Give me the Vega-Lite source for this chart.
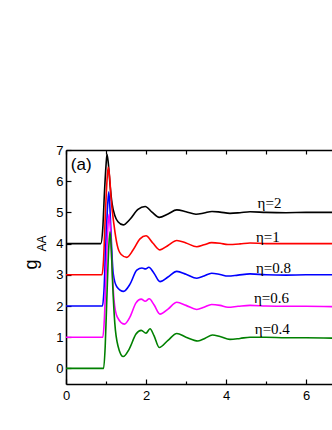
{
"$schema": "https://vega.github.io/schema/vega-lite/v6.json",
"autosize": {"type": "none"},
"padding": {"left": 66, "top": 150, "right": 0, "bottom": 46},
"width": 266,
"height": 234,
"config": {
  "view": {"stroke": null},
  "axis": {"grid": false, "domainColor": "#000", "tickColor": "#000", "labelColor": "#000", "titleColor": "#000", "labelFont": "Liberation Sans", "titleFont": "Liberation Sans", "labelFontSize": 13, "domainWidth": 1.6, "tickWidth": 1.2}
},
"layer": [
  {
    "data": {"values": [
      {"eta":"2","r":0,"g":4},{"eta":"2","r":0.87,"g":4},{"eta":"2","r":0.92,"g":4.5},{"eta":"2","r":0.96,"g":5.6},{"eta":"2","r":1.0,"g":6.5},{"eta":"2","r":1.025,"g":6.86},{"eta":"2","r":1.06,"g":6.55},{"eta":"2","r":1.1,"g":5.9},{"eta":"2","r":1.15,"g":5.3},{"eta":"2","r":1.22,"g":4.9},{"eta":"2","r":1.3,"g":4.7},{"eta":"2","r":1.43,"g":4.6},{"eta":"2","r":1.6,"g":4.78},{"eta":"2","r":1.8,"g":5.1},{"eta":"2","r":1.98,"g":5.19},{"eta":"2","r":2.15,"g":5.01},{"eta":"2","r":2.33,"g":4.84},{"eta":"2","r":2.55,"g":4.95},{"eta":"2","r":2.77,"g":5.08},{"eta":"2","r":3.0,"g":5.02},{"eta":"2","r":3.25,"g":4.94},{"eta":"2","r":3.45,"g":4.98},{"eta":"2","r":3.65,"g":5.03},{"eta":"2","r":3.85,"g":5.01},{"eta":"2","r":4.1,"g":4.97},{"eta":"2","r":4.35,"g":4.99},{"eta":"2","r":4.6,"g":5.02},{"eta":"2","r":5.0,"g":5.0},{"eta":"2","r":5.5,"g":4.99},{"eta":"2","r":6.0,"g":5.0},{"eta":"2","r":6.65,"g":5.0},
      {"eta":"1","r":0,"g":3},{"eta":"1","r":0.9,"g":3},{"eta":"1","r":0.94,"g":3.5},{"eta":"1","r":0.98,"g":4.8},{"eta":"1","r":1.02,"g":5.9},{"eta":"1","r":1.055,"g":6.45},{"eta":"1","r":1.09,"g":6.15},{"eta":"1","r":1.13,"g":5.4},{"eta":"1","r":1.2,"g":4.6},{"eta":"1","r":1.28,"g":3.95},{"eta":"1","r":1.38,"g":3.65},{"eta":"1","r":1.52,"g":3.56},{"eta":"1","r":1.68,"g":3.8},{"eta":"1","r":1.85,"g":4.15},{"eta":"1","r":2.0,"g":4.25},{"eta":"1","r":2.17,"g":4.02},{"eta":"1","r":2.35,"g":3.8},{"eta":"1","r":2.55,"g":3.94},{"eta":"1","r":2.77,"g":4.1},{"eta":"1","r":3.0,"g":4.02},{"eta":"1","r":3.27,"g":3.9},{"eta":"1","r":3.45,"g":3.96},{"eta":"1","r":3.64,"g":4.03},{"eta":"1","r":3.85,"g":4.01},{"eta":"1","r":4.05,"g":3.97},{"eta":"1","r":4.35,"g":3.99},{"eta":"1","r":4.6,"g":4.02},{"eta":"1","r":5.0,"g":4.0},{"eta":"1","r":5.5,"g":4.0},{"eta":"1","r":6.0,"g":4.0},{"eta":"1","r":6.65,"g":4.0},
      {"eta":"0.8","r":0,"g":2},{"eta":"0.8","r":0.91,"g":2},{"eta":"0.8","r":0.95,"g":2.5},{"eta":"0.8","r":0.99,"g":3.8},{"eta":"0.8","r":1.04,"g":5.2},{"eta":"0.8","r":1.07,"g":5.66},{"eta":"0.8","r":1.1,"g":5.1},{"eta":"0.8","r":1.14,"g":3.9},{"eta":"0.8","r":1.18,"g":3.05},{"eta":"0.8","r":1.27,"g":2.62},{"eta":"0.8","r":1.44,"g":2.47},{"eta":"0.8","r":1.6,"g":2.7},{"eta":"0.8","r":1.77,"g":3.15},{"eta":"0.8","r":1.9,"g":3.22},{"eta":"0.8","r":1.99,"g":3.19},{"eta":"0.8","r":2.07,"g":3.24},{"eta":"0.8","r":2.2,"g":3.05},{"eta":"0.8","r":2.35,"g":2.78},{"eta":"0.8","r":2.55,"g":2.93},{"eta":"0.8","r":2.77,"g":3.11},{"eta":"0.8","r":3.0,"g":3.02},{"eta":"0.8","r":3.27,"g":2.89},{"eta":"0.8","r":3.45,"g":2.96},{"eta":"0.8","r":3.64,"g":3.05},{"eta":"0.8","r":3.85,"g":3.01},{"eta":"0.8","r":4.05,"g":2.96},{"eta":"0.8","r":4.3,"g":2.99},{"eta":"0.8","r":4.6,"g":3.03},{"eta":"0.8","r":5.0,"g":3.0},{"eta":"0.8","r":5.5,"g":2.99},{"eta":"0.8","r":6.0,"g":3.0},{"eta":"0.8","r":6.65,"g":3.0},
      {"eta":"0.6","r":0,"g":1},{"eta":"0.6","r":0.92,"g":1},{"eta":"0.6","r":0.96,"g":1.6},{"eta":"0.6","r":1.0,"g":3.0},{"eta":"0.6","r":1.05,"g":4.6},{"eta":"0.6","r":1.08,"g":4.95},{"eta":"0.6","r":1.11,"g":4.45},{"eta":"0.6","r":1.15,"g":3.3},{"eta":"0.6","r":1.2,"g":2.2},{"eta":"0.6","r":1.28,"g":1.65},{"eta":"0.6","r":1.46,"g":1.42},{"eta":"0.6","r":1.6,"g":1.65},{"eta":"0.6","r":1.75,"g":2.1},{"eta":"0.6","r":1.88,"g":2.22},{"eta":"0.6","r":1.98,"g":2.15},{"eta":"0.6","r":2.08,"g":2.23},{"eta":"0.6","r":2.2,"g":2.04},{"eta":"0.6","r":2.35,"g":1.74},{"eta":"0.6","r":2.55,"g":1.9},{"eta":"0.6","r":2.77,"g":2.12},{"eta":"0.6","r":3.0,"g":2.02},{"eta":"0.6","r":3.27,"g":1.89},{"eta":"0.6","r":3.45,"g":1.96},{"eta":"0.6","r":3.64,"g":2.05},{"eta":"0.6","r":3.85,"g":2.02},{"eta":"0.6","r":4.05,"g":1.96},{"eta":"0.6","r":4.3,"g":1.99},{"eta":"0.6","r":4.6,"g":2.02},{"eta":"0.6","r":5.0,"g":2.0},{"eta":"0.6","r":5.5,"g":1.99},{"eta":"0.6","r":6.0,"g":1.99},{"eta":"0.6","r":6.65,"g":1.98},
      {"eta":"0.4","r":0,"g":0},{"eta":"0.4","r":0.94,"g":0},{"eta":"0.4","r":0.98,"g":0.7},{"eta":"0.4","r":1.02,"g":2.2},{"eta":"0.4","r":1.07,"g":3.9},{"eta":"0.4","r":1.1,"g":4.38},{"eta":"0.4","r":1.13,"g":3.9},{"eta":"0.4","r":1.17,"g":2.6},{"eta":"0.4","r":1.22,"g":1.45},{"eta":"0.4","r":1.3,"g":0.72},{"eta":"0.4","r":1.43,"g":0.38},{"eta":"0.4","r":1.58,"g":0.62},{"eta":"0.4","r":1.75,"g":1.1},{"eta":"0.4","r":1.88,"g":1.22},{"eta":"0.4","r":2.0,"g":1.13},{"eta":"0.4","r":2.1,"g":1.27},{"eta":"0.4","r":2.2,"g":1.05},{"eta":"0.4","r":2.33,"g":0.67},{"eta":"0.4","r":2.55,"g":0.9},{"eta":"0.4","r":2.77,"g":1.12},{"eta":"0.4","r":3.0,"g":1.0},{"eta":"0.4","r":3.3,"g":0.88},{"eta":"0.4","r":3.48,"g":0.97},{"eta":"0.4","r":3.66,"g":1.07},{"eta":"0.4","r":3.85,"g":1.02},{"eta":"0.4","r":4.1,"g":0.93},{"eta":"0.4","r":4.35,"g":0.96},{"eta":"0.4","r":4.6,"g":1.0},{"eta":"0.4","r":5.0,"g":1.0},{"eta":"0.4","r":5.5,"g":0.98},{"eta":"0.4","r":6.0,"g":0.98},{"eta":"0.4","r":6.65,"g":0.97}
    ]},
    "mark": {"type": "line", "interpolate": "monotone", "strokeWidth": 1.6, "clip": true},
    "encoding": {
      "x": {"field": "r", "type": "quantitative", "scale": {"domain": [0, 6.65], "nice": false, "zero": false},
        "axis": {"orient": "bottom", "title": null, "values": [0,1,2,3,4,5,6], "labelExpr": "datum.value % 2 === 0 ? datum.label : ''", "tickSize": {"condition": {"test": "datum.value % 2 === 0", "value": -5}, "value": -3}, "labelPadding": 10, "labelFlush": false}},
      "y": {"field": "g", "type": "quantitative", "scale": {"domain": [-0.5, 7], "nice": false, "zero": false},
        "axis": {"orient": "left", "title": "g", "titleFontSize": 18, "titleFontWeight": "normal", "titleAngle": 270, "titleAlign": "center", "titleBaseline": "alphabetic", "titleX": -30, "titleY": 114, "values": [0,0.5,1,1.5,2,2.5,3,3.5,4,4.5,5,5.5,6,6.5,7], "format": "d", "labelExpr": "datum.value % 1 === 0 ? datum.label : ''", "tickSize": {"condition": {"test": "datum.value % 1 === 0", "value": -5}, "value": -3}, "labelPadding": 8}},
      "color": {"field": "eta", "type": "nominal", "legend": null, "scale": {"domain": ["2","1","0.8","0.6","0.4"], "range": ["#000000","#ff0000","#0000ff","#ff00ff","#008000"]}},
      "order": {"field": "r", "type": "quantitative"}
    }
  },
  {
    "data": {"values": [
      {"label": "η=2", "lx": 4.79, "ly": 5.29},
      {"label": "η=1", "lx": 4.75, "ly": 4.22},
      {"label": "η=0.8", "lx": 4.75, "ly": 3.23},
      {"label": "η=0.6", "lx": 4.7, "ly": 2.25},
      {"label": "η=0.4", "lx": 4.72, "ly": 1.27}
    ]},
    "mark": {"type": "text", "font": "Liberation Serif", "fontSize": 15, "align": "left", "baseline": "middle", "color": "#000"},
    "encoding": {
      "x": {"field": "lx", "type": "quantitative", "axis": {"orient": "top", "title": null, "labels": false, "values": [0,1,2,3,4,5,6], "tickSize": -4}},
      "y": {"field": "ly", "type": "quantitative", "axis": {"orient": "left", "title": "AA", "titleFontSize": 12, "titleFontWeight": "normal", "titleAngle": 270, "titleAlign": "center", "titleBaseline": "alphabetic", "titleX": -21, "titleY": 93, "labels": false, "ticks": false, "domain": false}},
      "text": {"field": "label"}
    }
  },
  {
    "data": {"values": [{"label": "(a)", "lx": 0.12, "ly": 6.52}]},
    "mark": {"type": "text", "font": "Liberation Sans", "fontSize": 17, "align": "left", "baseline": "middle", "color": "#000"},
    "encoding": {
      "x": {"field": "lx", "type": "quantitative", "axis": null},
      "y": {"field": "ly", "type": "quantitative", "axis": null},
      "text": {"field": "label"}
    }
  }
],
"resolve": {"axis": {"x": "independent", "y": "independent"}}
}
